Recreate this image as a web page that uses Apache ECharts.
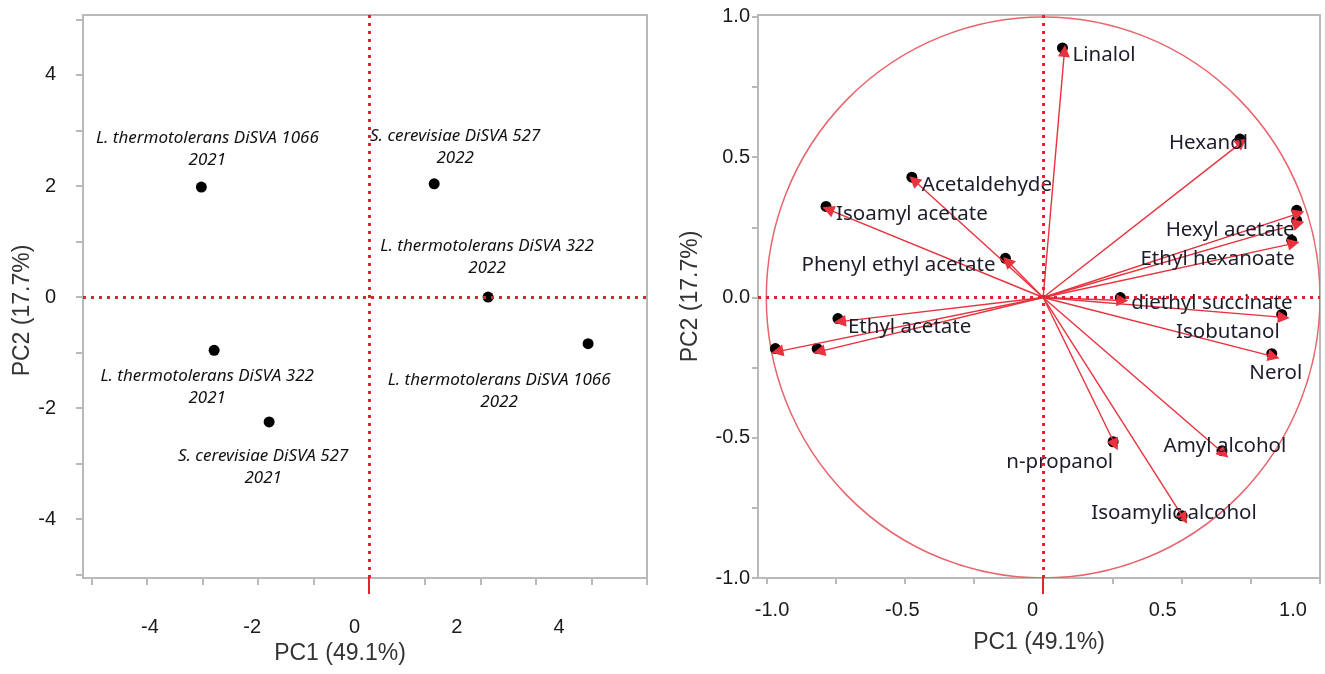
<!DOCTYPE html>
<html>
<head>
<meta charset="utf-8">
<script src="https://cdn.jsdelivr.net/npm/echarts@6.0.0/dist/echarts.min.js"></script>
<style>
  html, body { margin: 0; padding: 0; background: #fff; }
  #chart { width: 1325px; height: 674px; }
</style>
</head>
<body>
<div id="chart"></div>
<script>
// score plot (left)
const scoreNames = [
  "L. thermotolerans DiSVA 1066\n2021",
  "S. cerevisiae DiSVA 527\n2022",
  "L. thermotolerans DiSVA 322\n2022",
  "L. thermotolerans DiSVA 1066\n2022",
  "L. thermotolerans DiSVA 322\n2021",
  "S. cerevisiae DiSVA 527\n2021",
];
const scorePC1 = [-3.02, 1.17, 2.14, 3.94, -2.79, -1.8];
const scorePC2 = [1.98, 2.04, 0.0, -0.84, -0.96, -2.25];
const scoreTicks = [-5, -4, -3, -2, -1, 0, 1, 2, 3, 4, 5];
const scoreTickLabels = [-4, -2, 0, 2, 4];

// loading plot (right)
const loadingNames = [
  "Linalol", "Hexanol", "Acetaldehyde", "Isoamyl acetate", "Phenyl ethyl acetate",
  "", "Hexyl acetate", "Ethyl hexanoate", "diethyl succinate", "Isobutanol",
  "Nerol", "Amyl alcohol", "n-propanol", "Isoamylic alcohol", "Ethyl acetate",
  "", "",
];
const loadingPC1 = [0.077, 0.718, -0.467, -0.777, -0.129, 0.923, 0.923, 0.905, 0.286, 0.869,
  0.833, 0.653, 0.26, 0.509, -0.734, -0.96, -0.809];
const loadingPC2 = [0.879, 0.554, 0.418, 0.314, 0.129, 0.3, 0.264, 0.193, -0.011, -0.071,
  -0.211, -0.557, -0.525, -0.789, -0.086, -0.193, -0.193];
const loadingTicks = [-1, -0.75, -0.5, -0.25, 0, 0.25, 0.5, 0.75, 1];
const loadingTickLabels = [-1, -0.5, 0, 0.5, 1];
const corrCircle = [0, 0, 1];

// label placement (pixels, relative to the point)
const scoreLabelOffset = [[6, -38], [21, -37], [-1, -40], [-89, 47], [-7, 37], [-6, 45]];
const loadingLabelPlace = [
  ["left", 8, 4], ["right", 6, 1], ["left", 8, 5], ["left", 8, 5], ["right", -12, 4],
  ["left", 0, 0], ["right", -4, 7], ["right", 1, 16], ["left", 9, 3], ["right", -4, 15],
  ["center", 2, 16], ["center", 1, -8], ["right", -2, 17], ["center", -10, -6], ["left", 8, 6],
  ["left", 0, 0], ["left", 0, 0],
];

const gray = "#b9b9b9";
const red = "#e2222c";
const tickFont = { fontFamily: "Liberation Sans", fontSize: 20, color: "#1a1a1a" };
const titleFont = { fontFamily: "Liberation Sans", fontSize: 23, color: "#333" };
const dotted = {
  silent: true,
  symbol: "none",
  label: { show: false },
  lineStyle: { color: red, type: [3, 5], width: 3 },
  data: [{ xAxis: 0 }, { yAxis: 0 }],
};

// red tick under the axis at zero
function zeroTickAxis(grid, min, max) {
  return {
    gridIndex: grid, type: "value", min: min, max: max, position: "bottom",
    axisLine: { show: false, onZero: false },
    axisTick: { customValues: [0], length: 16, lineStyle: { color: red, width: 2 } },
    axisLabel: { show: false },
    splitLine: { show: false },
  };
}

const chart = echarts.init(document.getElementById("chart"));

const option = {
  animation: false,
  grid: [
    { left: 83, top: 15, width: 564, height: 563, show: true, borderColor: gray, borderWidth: 2 },
    { left: 758, top: 15, width: 562, height: 563, show: true, borderColor: gray, borderWidth: 2 },
  ],
  xAxis: [
    {
      gridIndex: 0, type: "value", min: -5.15, max: 5, position: "bottom",
      axisLine: { onZero: false, lineStyle: { color: gray, width: 2 } },
      axisTick: { customValues: scoreTicks, length: 7, lineStyle: { color: gray, width: 2 } },
      axisLabel: { show: false },
      splitLine: { show: false },
    },
    {
      gridIndex: 0, type: "value", min: -5.31, max: 5.72, position: "bottom",
      axisLine: { show: false, onZero: false },
      axisTick: { show: false },
      axisLabel: Object.assign({ customValues: scoreTickLabels, margin: 39 }, tickFont),
      splitLine: { show: false },
      name: "PC1 (49.1%)", nameLocation: "middle", nameGap: 64,
      nameTextStyle: Object.assign({ padding: [0, 50, 0, 0] }, titleFont),
    },
    {
      gridIndex: 1, type: "value", min: -1.03, max: 1, position: "bottom",
      axisLine: { onZero: false, lineStyle: { color: gray, width: 2 } },
      axisTick: { customValues: loadingTicks, length: 6, lineStyle: { color: gray, width: 2 } },
      axisLabel: { show: false },
      splitLine: { show: false },
    },
    {
      gridIndex: 1, type: "value", min: -1.054, max: 1.104, position: "bottom",
      axisLine: { show: false, onZero: false },
      axisTick: { show: false },
      axisLabel: Object.assign({
        customValues: loadingTickLabels, margin: 22,
        formatter: (v) => (v === 0 ? "0" : v.toFixed(1)),
      }, tickFont),
      splitLine: { show: false },
      name: "PC1 (49.1%)", nameLocation: "middle", nameGap: 53,
      nameTextStyle: titleFont,
    },
    zeroTickAxis(0, -5.15, 5),
    zeroTickAxis(1, -1.03, 1),
  ],
  yAxis: [
    {
      gridIndex: 0, type: "value", min: -5.06, max: 5.08,
      axisLine: { onZero: false, lineStyle: { color: gray, width: 2 } },
      axisTick: { customValues: scoreTicks, length: 7, lineStyle: { color: gray, width: 2 } },
      axisLabel: Object.assign({ customValues: scoreTickLabels, margin: 27 }, tickFont),
      splitLine: { show: false },
      name: "PC2 (17.7%)", nameLocation: "middle", nameGap: 47,
      nameTextStyle: Object.assign({ padding: [0, 28, 0, 0] }, titleFont),
    },
    {
      gridIndex: 1, type: "value", min: -1, max: 1.007,
      axisLine: { onZero: false, lineStyle: { color: gray, width: 2 } },
      axisTick: { customValues: loadingTicks, length: 6, lineStyle: { color: gray, width: 2 } },
      axisLabel: Object.assign({
        customValues: loadingTickLabels, margin: 8,
        formatter: (v) => v.toFixed(1),
      }, tickFont),
      splitLine: { show: false },
      name: "PC2 (17.7%)", nameLocation: "middle", nameGap: 56,
      nameTextStyle: titleFont,
    },
  ],
  series: [
    {
      type: "scatter",
      xAxisIndex: 0, yAxisIndex: 0,
      symbolSize: 11,
      itemStyle: { color: "#000", opacity: 1 },
      data: scoreNames.map((n, i) => ({
        name: n,
        value: [scorePC1[i], scorePC2[i]],
        label: { offset: scoreLabelOffset[i] },
      })),
      label: {
        show: true,
        position: "inside",
        formatter: "{b}",
        fontFamily: "Noto Sans",
        fontStyle: "italic",
        fontSize: 17,
        lineHeight: 22,
        color: "#111",
        opacity: 1,
      },
      markLine: dotted,
    },
    {
      type: "custom",
      xAxisIndex: 2, yAxisIndex: 1,
      clip: true,
      silent: true,
      data: [corrCircle],
      renderItem: function (params, api) {
        const c = api.coord([api.value(0), api.value(1)]);
        const s = api.size([api.value(2), api.value(2)]);
        return {
          type: "circle",
          x: c[0], y: c[1],
          scaleY: s[1] / s[0],
          shape: { cx: 0, cy: 0, r: s[0] },
          style: { fill: "none", stroke: "#e8646c", lineWidth: 1.5 },
        };
      },
      z: 1,
    },
    {
      type: "scatter",
      xAxisIndex: 2, yAxisIndex: 1,
      symbolSize: 11,
      symbolOffset: [-2, -3],
      itemStyle: { color: "#000", opacity: 1 },
      data: loadingPC1.map((x, i) => [x, loadingPC2[i]]),
      markLine: dotted,
      z: 2,
    },
    {
      type: "lines",
      coordinateSystem: "cartesian2d",
      xAxisIndex: 2, yAxisIndex: 1,
      symbol: ["none", "triangle"],
      symbolSize: 12,
      lineStyle: { color: "#e8323e", width: 1.4, opacity: 1 },
      data: loadingPC1.map((x, i) => ({ coords: [[0, 0], [x, loadingPC2[i]]] })),
      z: 3,
    },
    {
      type: "scatter",
      xAxisIndex: 2, yAxisIndex: 1,
      symbolSize: 1,
      itemStyle: { color: "rgba(0,0,0,0)", opacity: 1 },
      data: loadingNames.map((n, i) => ({
        name: n,
        value: [loadingPC1[i], loadingPC2[i]],
        label: { align: loadingLabelPlace[i][0], offset: [loadingLabelPlace[i][1], loadingLabelPlace[i][2]] },
      })),
      label: {
        show: true,
        position: "inside",
        verticalAlign: "middle",
        formatter: "{b}",
        fontFamily: "Noto Sans",
        fontSize: 20.5,
        color: "#1c1c2a",
        opacity: 1,
      },
      z: 4,
    },
  ],
};

chart.setOption(option);
</script>
</body>
</html>
